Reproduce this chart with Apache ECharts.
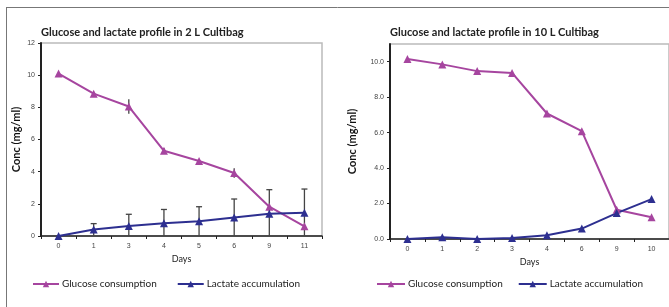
<!DOCTYPE html>
<html>
<head>
<meta charset="utf-8">
<script src="https://cdn.jsdelivr.net/npm/echarts@6/dist/echarts.min.js"></script>
<style>
  html, body { margin: 0; padding: 0; background: #fff; }
  #main { width: 669px; height: 307px; }
</style>
</head>
<body>
<div id="main"></div>
<script>
'use strict'
// 2 L bag
var days2L = ['0', '1', '3', '4', '5', '6', '9', '11'];
var glucose2L = [10.1, 8.85, 8.05, 5.3, 4.66, 3.92, 1.82, 0.6];
var glucoseErr2L = [0, 0, 0.45, 0.15, 0, 0.3, 0, 0];
var lactate2L = [0, 0.4, 0.62, 0.8, 0.92, 1.15, 1.38, 1.45];
var lactateTop2L = [0, 0.77, 1.35, 1.65, 1.82, 2.3, 2.88, 2.92];
// 10 L bag
var days10L = ['0', '1', '2', '3', '4', '6', '9', '10'];
var glucose10L = [10.15, 9.85, 9.47, 9.37, 7.08, 6.08, 1.65, 1.23];
var lactate10L = [0, 0.1, 0, 0.05, 0.21, 0.59, 1.46, 2.25];

var ticks2L = [0, 2, 4, 6, 8, 10, 12];
var ticks10L = [0, 2, 4, 6, 8, 10];

var purple = '#a6459f';
var navy = '#2d2f90';
var fontFam = 'Lato, "Open Sans", sans-serif';

// error bar items: [x index, low, high, cap?]
var errBars = [];
lactate2L.forEach(function (v, i) {
    if (lactateTop2L[i] > v) {
        errBars.push([i, Math.max(0, 2 * v - lactateTop2L[i]), lactateTop2L[i], 1]);
    }
});
glucose2L.forEach(function (v, i) {
    if (glucoseErr2L[i] > 0) {
        errBars.push([i, v - glucoseErr2L[i], v + glucoseErr2L[i], 0]);
    }
});

function renderErr(params, api) {
    var lo = api.coord([api.value(0), api.value(1)]);
    var hi = api.coord([api.value(0), api.value(2)]);
    var w = api.value(3) ? 3 : 0;
    return {
        type: 'group',
        children: [
            { type: 'line', shape: { x1: hi[0], y1: hi[1], x2: lo[0], y2: lo[1] },
              style: { stroke: '#444', lineWidth: 1.3 } },
            { type: 'line', shape: { x1: hi[0] - w, y1: hi[1], x2: hi[0] + w, y2: hi[1] },
              style: { stroke: '#444', lineWidth: 1.3 } }
        ]
    };
}

function yAxisOpt(idx, ticks, max, fixed, gap) {
    return {
        gridIndex: idx, type: 'value', min: 0, max: max, interval: 2,
        name: 'Conc (mg/ml)', nameLocation: 'middle', nameGap: gap,
        nameTextStyle: { fontFamily: fontFam, fontWeight: 'bold', fontSize: 11, color: '#111' },
        axisLine: { show: true, lineStyle: { color: '#222', width: 2 } },
        axisTick: { show: true, length: 3, inside: false, customValues: ticks, lineStyle: { color: '#222' } },
        axisLabel: { customValues: ticks, fontSize: 7, color: '#444', margin: 6,
            formatter: function (v) { return fixed ? v.toFixed(1) : String(v); } },
        splitLine: { show: false }
    };
}

function xAxisOpt(idx, cats) {
    return {
        gridIndex: idx, type: 'category', data: cats, boundaryGap: true,
        name: 'Days', nameLocation: 'middle', nameGap: 15,
        nameTextStyle: { fontFamily: fontFam, fontSize: 9, color: '#222' },
        axisLine: { lineStyle: { color: '#222', width: 1.5 } },
        axisTick: { show: true, length: 3, alignWithLabel: false, lineStyle: { color: '#222' } },
        axisLabel: { fontSize: 7, color: '#444', margin: 7 }
    };
}

function lineSeries(name, color, xi, data) {
    return {
        name: name, type: 'line', xAxisIndex: xi, yAxisIndex: xi, data: data,
        symbol: 'triangle', symbolSize: 8, z: 3,
        lineStyle: { color: color, width: 2 },
        itemStyle: { color: color }
    };
}

var myChart = echarts.init(document.getElementById('main'));
myChart.setOption({
    animation: false,
    title: [
        { text: 'Glucose and lactate profile in 2 L Cultibag', left: 41, top: 27, padding: 0,
          textStyle: { fontFamily: fontFam, fontSize: 11, fontWeight: 'bold', color: '#222' } },
        { text: 'Glucose and lactate profile in 10 L Cultibag', left: 390, top: 27, padding: 0,
          textStyle: { fontFamily: fontFam, fontSize: 11, fontWeight: 'bold', color: '#222' } }
    ],
    grid: [
        { left: 41, top: 43, width: 281, height: 193, show: true,
          borderColor: '#bbb', borderWidth: 1.5, backgroundColor: '#fff' },
        { left: 390, top: 44, width: 280, height: 195, show: true,
          borderColor: '#bbb', borderWidth: 1.5, backgroundColor: '#fff' }
    ],
    xAxis: [xAxisOpt(0, days2L), xAxisOpt(1, days10L)],
    yAxis: [yAxisOpt(0, ticks2L, 12, false, 19), yAxisOpt(1, ticks10L, 11, true, 32)],
    legend: [
        { left: 27, top: 274, itemWidth: 26, itemHeight: 8, itemGap: 20,
          data: ['Glucose consumption', 'Lactate accumulation'],
          textStyle: { fontFamily: fontFam, fontSize: 10, color: '#222', padding: [0, 0, 0, -2] } },
        { left: 371, top: 274, itemWidth: 28, itemHeight: 8, itemGap: 15,
          data: ['Glucose consumption', 'Lactate accumulation'],
          textStyle: { fontFamily: fontFam, fontSize: 10, color: '#222', padding: [0, 0, 0, -2] } }
    ],
    graphic: [
        { type: 'line', shape: { x1: 6, y1: 7.5, x2: 669, y2: 7.5 }, style: { stroke: '#777', lineWidth: 1 } },
        { type: 'line', shape: { x1: 6.5, y1: 7, x2: 6.5, y2: 307 }, style: { stroke: '#777', lineWidth: 1 } }
    ],
    series: [
        {
            type: 'custom', name: 'err', xAxisIndex: 0, yAxisIndex: 0, z: 2,
            renderItem: renderErr, data: errBars, encode: { x: 0, y: [1, 2] }
        },
        lineSeries('Glucose consumption', purple, 0, glucose2L),
        lineSeries('Lactate accumulation', navy, 0, lactate2L),
        lineSeries('Glucose consumption', purple, 1, glucose10L),
        lineSeries('Lactate accumulation', navy, 1, lactate10L)
    ]
});
</script>
</body>
</html>
